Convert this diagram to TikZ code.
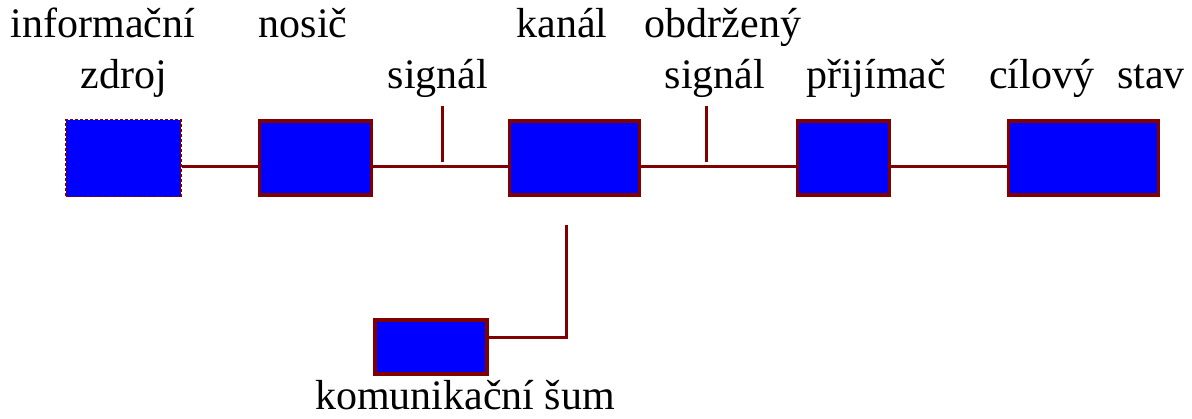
\documentclass[tikz,border=0pt]{standalone}
\usepackage{fontspec}
\setmainfont{Liberation Serif}
\usetikzlibrary{positioning}
\definecolor{linka}{RGB}{128,0,0}
\tikzset{
x=0.5pt, y=-0.5pt, % one unit is one pixel of the original
blok/.style={draw=linka, fill=blue, line width=1.8pt, inner sep=0pt, minimum height=37pt}, % sets the properties for each box
spoj/.style={draw=linka, line width=1.5pt}, % connecting lines
popis/.style={anchor=base, inner sep=0pt, font=\fontsize{21}{25}\selectfont}, % labels
}
\begin{document}
\begin{tikzpicture}
        \useasboundingbox (0,0) rectangle (1192,418);
        % boxes
        \node[blok, line width=0.6pt, dash pattern=on 1.5pt off 1pt, minimum width=57.5pt, minimum height=38.5pt] (zdroj) at (123.5,158) {};
        \node[blok, minimum width=56pt] (nosic) at (315.5,158) {};
        \node[blok, minimum width=65pt] (kanal) at (574.5,158) {};
        \node[blok, minimum width=46pt] (prijimac) at (843.5,158) {};
        \node[blok, minimum width=75pt] (cil) at (1083.5,158) {};
        \node[blok, minimum width=56pt, minimum height=27pt] (sum) at (431,347) {};
        % connections
        \draw[spoj] ([yshift=-4pt]zdroj.east) -- ([yshift=-4pt]nosic.west);
        \draw[spoj] ([yshift=-4pt]nosic.east) -- ([yshift=-4pt]kanal.west);
        \draw[spoj] ([yshift=-4pt]kanal.east) -- ([yshift=-4pt]prijimac.west);
        \draw[spoj] ([yshift=-4pt]prijimac.east) -- ([yshift=-4pt]cil.west);
        \coordinate (rusit) at (566,225);
        \draw[spoj] (rusit) |- ([yshift=5pt]sum.east);
        % signal ticks
        \coordinate (s1) at (442,106);
        \coordinate (s2) at (706,106);
        \draw[spoj] (s1) -- ++(0,56);
        \draw[spoj] (s2) -- ++(0,56);
        % labels
        \node[popis] (tinf) at (103,37) {informační};
        \node[popis] (tzdr) at (124,88) {zdroj};
        \node[popis] (tnos) at (303,37) {nosič};
        \node[popis] (tsig) at (438,88) {signál};
        \node[popis] (tkan) at (562,37) {kanál};
        \node[popis] (tobd) at (723,37) {obdržený};
        \node[popis] (tosg) at (715,88) {signál};
        \node[popis] (tpri) at (876,88) {přijímač};
        \node[popis] (tcil) at (1087,88) {cílový\hspace{0.55em}stav};
        \node[popis] (tsum) at (465,409) {komunikační šum};
    \end{tikzpicture}
\end{document}
